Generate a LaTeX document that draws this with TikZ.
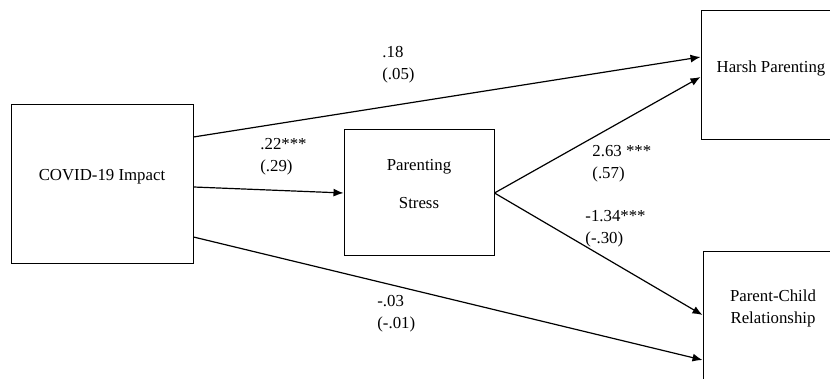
\documentclass[tikz,border=0pt]{standalone}
\usepackage{fontspec}
\setmainfont{Liberation Serif}
\usetikzlibrary{arrows.meta}
\tikzset{
  >={Latex[length=5pt,width=4pt]},
  x=0.5pt,
  y=-0.5pt,
}
\tikzstyle{box}=[draw,line width=0.5pt,inner sep=0pt]
\tikzstyle{link}=[line width=0.6pt,->]
\tikzstyle{coef}=[anchor=west,align=left,inner sep=0pt]
\tikzstyle{every node}=[font=\fontsize{8.4}{11}\selectfont]

\begin{document}
\begin{tikzpicture}
        \clip (0,0) rectangle (830,379);
        % boxes
        \node[box,minimum width=91pt,minimum height=79.5pt] (impact) at (102,184.5) {};
        \node[box,minimum width=75pt,minimum height=63pt] (stress) at (419,193) {};
        \node[box,minimum width=70pt,minimum height=64.5pt] (harsh) at (771,75.5) {};
        \node[box,minimum width=70pt,minimum height=64.5pt] (pcr) at (773,316.5) {};
        \node (impacttxt) at (102,177) {COVID-19 Impact};
        \node[align=center] (stresstxt) at (419,184) {Parenting\\[8pt]Stress};
        \node (harshtxt) at (771,68) {Harsh Parenting};
        \node[align=center] (pcrtxt) at (773,308.5) {Parent-Child\\Relationship};
        % paths
        \draw[link] ([yshift=23.75pt]impact.east) -- ([yshift=9.25pt]harsh.west);
        \draw[link] ([yshift=-1.25pt]impact.east) -- (stress.west);
        \draw[link] ([yshift=-26.25pt]impact.east) -- ([yshift=-21.75pt]pcr.west);
        \draw[link] (stress.east) -- ([yshift=-0.75pt]harsh.west);
        \draw[link] (stress.east) -- ([yshift=0.75pt]pcr.west);
        % coefficients
        \node[coef] (c1) at (382,65) {.18\\(.05)};
        \node[coef] (c2) at (260,157) {.22***\\(.29)};
        \node[coef] (c3) at (377,314) {-.03\\(-.01)};
        \node[coef] (c4) at (592,164) {2.63 ***\\(.57)};
        \node[coef] (c5) at (585,229) {-1.34***\\(-.30)};
      \end{tikzpicture}
\end{document}
